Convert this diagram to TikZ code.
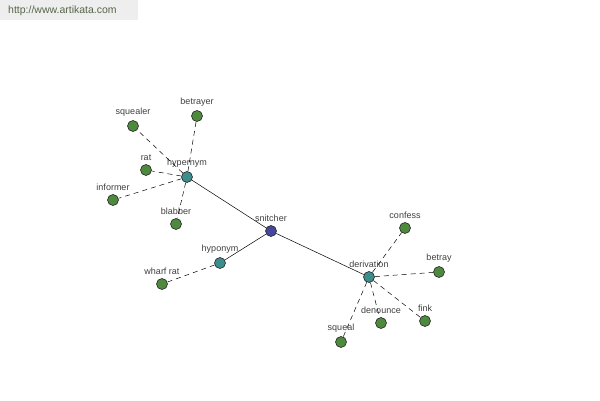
\documentclass[tikz,border=0pt]{standalone}
\usepackage{fontspec}
\setmainfont{Liberation Sans}
\definecolor{leaf}{HTML}{4E8A3E}
\definecolor{mid}{HTML}{3E8C8C}
\definecolor{core}{HTML}{45479A}
\definecolor{hdr}{HTML}{EEEEEE}
\definecolor{hdrtxt}{HTML}{55664A}
\begin{document}
\begin{tikzpicture}[x=1pt,y=-1pt,
  vtx/.style={circle,draw=black!85,line width=0.6pt,minimum size=11pt,inner sep=0pt,
    label={[font=\fontsize{9}{10}\selectfont,text=black!75,label distance=0pt]above:#1}},
  leafv/.style={vtx=#1,fill=leaf},
  midv/.style={vtx=#1,fill=mid},
  corev/.style={vtx=#1,fill=core},
  rel/.style={draw=black,line width=0.5pt},
  syn/.style={draw=black,line width=0.5pt,dash pattern=on 5pt off 4pt}]
\useasboundingbox[fill=white] (0,0) rectangle (600,400);
\fill[hdr] (0,0) rectangle (138,20);
\node[anchor=west,inner sep=0pt,text=hdrtxt,font=\fontsize{10.5}{12}\selectfont] (url) at (8,11) {http://www.artikata.com};
\node[corev=snitcher] (snitcher) at (271,231) {};
\node[midv=hypernym] (hypernym) at (187,177) {};
\node[midv=hyponym] (hyponym) at (220,263) {};
\node[midv=derivation] (derivation) at (369,277) {};
\node[leafv=squealer] (squealer) at (133,126) {};
\node[leafv=betrayer] (betrayer) at (197,116) {};
\node[leafv=rat] (rat) at (146,170) {};
\node[leafv=informer] (informer) at (113,200) {};
\node[leafv=blabber] (blabber) at (176,224) {};
\node[leafv=wharf rat] (wharfrat) at (162,284) {};
\node[leafv=confess] (confess) at (405,228) {};
\node[leafv=betray] (betray) at (439,272) {};
\node[leafv=fink] (fink) at (425,321) {};
\node[leafv=denounce] (denounce) at (381,323) {};
\node[leafv=squeal] (squeal) at (341,342) {};
\draw[rel] (snitcher) -- (hypernym);
\draw[rel] (snitcher) -- (hyponym);
\draw[rel] (snitcher) -- (derivation);
\foreach \n in {squealer,betrayer,rat,informer,blabber}
  \draw[syn] (hypernym) -- (\n);
\draw[syn] (hyponym) -- (wharfrat);
\foreach \n in {confess,betray,fink,denounce,squeal}
  \draw[syn] (derivation) -- (\n);
\end{tikzpicture}
\end{document}
